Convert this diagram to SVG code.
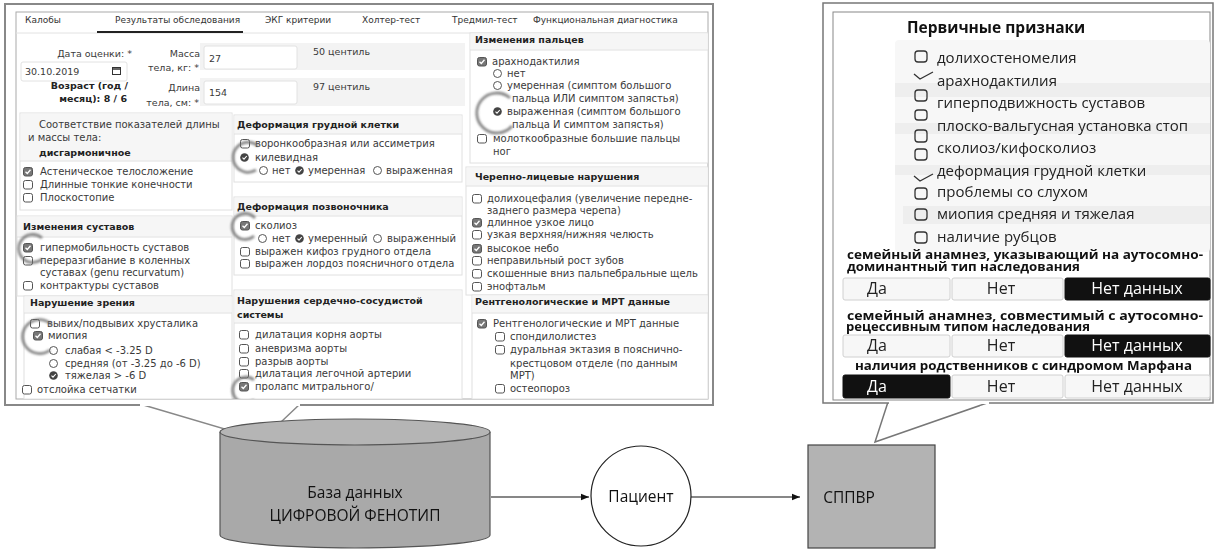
<svg xmlns="http://www.w3.org/2000/svg" xmlns:xlink="http://www.w3.org/1999/xlink" width="1215" height="552" viewBox="0 0 1215 552">
<style>
.t{font-family:"DejaVu Sans",sans-serif;font-size:10px;fill:#3a3a3a}
.s{font-size:9.5px}
.tab{font-family:"DejaVu Sans",sans-serif;font-size:9px;fill:#333}
.b{font-family:"DejaVu Sans",sans-serif;font-size:9.5px;font-weight:bold;fill:#222}
.sec{fill:#fff;stroke:#e0e0e0;stroke-width:1}
.hdr{fill:#f6f6f6}
.hl{fill:none;stroke:#6a6a6a;stroke-width:2.8;opacity:.8}
.o{font-family:"Open Sans","Noto Sans",sans-serif;font-size:15px;fill:#222}
.ob{font-family:"Open Sans","Noto Sans",sans-serif;font-size:12px;font-weight:bold;fill:#111}
.btn{fill:#f7f7f7;stroke:#d0d0d0;stroke-width:1}
.bk{fill:#111;stroke:#111}
.bt{font-family:"Open Sans","Noto Sans",sans-serif;font-size:16px;fill:#222;text-anchor:middle}
.bw{fill:#fff}
.pb{fill:none;stroke:#333;stroke-width:1.3}
.lbl{font-family:"Open Sans","Noto Sans",sans-serif;font-size:15.5px;fill:#111;text-anchor:middle}
.cn{stroke:#111;stroke-width:1.2;fill:none}
</style>
<defs>
<g id="cb"><rect x="0.5" y="0.5" width="9" height="8.5" rx="2" fill="#fff" stroke="#555" stroke-width="1"/></g>
<g id="cbc"><rect x="0.5" y="0.5" width="9" height="8.5" rx="2" fill="#777" stroke="#555" stroke-width="1"/><path d="M2.5 4.8 L4.3 6.5 L7.5 2.8" fill="none" stroke="#fff" stroke-width="1.3"/></g>
<g id="rd"><circle cx="4.5" cy="4.5" r="4" fill="#fff" stroke="#555" stroke-width="1"/></g>
<g id="rdc"><circle cx="4.5" cy="4.5" r="4.3" fill="#444"/><path d="M2.5 4.7 L4 6.2 L6.8 3" fill="none" stroke="#fff" stroke-width="1.1"/></g>
<filter id="blur" x="-30%" y="-30%" width="160%" height="160%"><feGaussianBlur stdDeviation="1.1"/></filter>
<clipPath id="lclip"><rect x="16" y="12" width="692" height="387"/></clipPath>
<marker id="ar" viewBox="0 0 10 10" refX="10" refY="5" markerWidth="7" markerHeight="7" orient="auto"><path d="M0 1 L10 5 L0 9 Z" fill="#111"/></marker>
</defs>

<g id="left-panel">
<path d="M140 404 L262 440 L300 404" fill="#fff" stroke="#888" stroke-width="1.5"/>
<rect x="5" y="4" width="708" height="401" fill="#fff" stroke="#888" stroke-width="2"/>
<line x1="140" y1="405" x2="300" y2="405" stroke="#fff" stroke-width="2"/>
<rect x="16" y="12" width="692" height="387" fill="#fff" stroke="#aaa" stroke-width="1"/>
<g clip-path="url(#lclip)">
<line x1="16" y1="33" x2="708" y2="33" stroke="#e2e2e2"/>
<line x1="97" y1="32" x2="243" y2="32" stroke="#222" stroke-width="2"/>
<text class="tab" x="25" y="23">Калобы</text>
<text class="tab" x="115" y="23">Результаты обследования</text>
<text class="tab" x="265" y="23">ЭКГ критерии</text>
<text class="tab" x="362" y="23">Холтер-тест</text>
<text class="tab" x="452" y="23">Тредмил-тест</text>
<text class="tab" x="533" y="23">Функциональная диагностика</text>

<rect x="200" y="43" width="265" height="27" fill="#f3f3f3"/>
<rect x="200" y="78" width="265" height="28" fill="#f3f3f3"/>
<rect x="204" y="46" width="93" height="23" rx="2" fill="#fff" stroke="#e2e2e2"/>
<rect x="204" y="81" width="93" height="23" rx="2" fill="#fff" stroke="#e2e2e2"/>
<rect x="21" y="62" width="106" height="19" rx="2" fill="#fff" stroke="#e2e2e2"/>
<rect x="112.5" y="67.5" width="8" height="7" fill="none" stroke="#333" stroke-width="1"/>
<line x1="112.5" y1="69" x2="120.5" y2="69" stroke="#333" stroke-width="1.5"/>
<text class="t s" x="132" y="57" text-anchor="end">Дата оценки: *</text>
<text class="t s" x="25" y="75">30.10.2019</text>
<text class="b" x="128" y="89" text-anchor="end">Возраст (год /</text>
<text class="b" x="127" y="102" text-anchor="end">месяц): 8 / 6</text>
<text class="t s" x="200" y="57" text-anchor="end">Масса</text>
<text class="t s" x="199" y="71" text-anchor="end">тела, кг: *</text>
<text class="t s" x="200" y="91" text-anchor="end">Длина</text>
<text class="t s" x="199" y="106" text-anchor="end">тела, см: *</text>
<text class="t s" x="209" y="62">27</text>
<text class="t s" x="209" y="96">154</text>
<text class="t s" x="313" y="55">50 центиль</text>
<text class="t s" x="313" y="90">97 центиль</text>

<rect class="sec" x="20" y="113" width="212" height="97"/>
<rect class="hdr" x="20.5" y="113.5" width="211" height="47"/>
<line x1="20" y1="161" x2="232" y2="161" stroke="#e0e0e0"/>
<text class="t" x="39" y="128">Соответствие показателей длины</text>
<text class="t" x="28" y="141">и массы тела:</text>
<text class="b" x="39" y="156">дисгармоничное</text>
<use href="#cbc" x="23" y="167"/><text class="t" x="40" y="175">Астеническое телосложение</text>
<use href="#cb" x="23" y="180"/><text class="t" x="40" y="188">Длинные тонкие конечности</text>
<use href="#cb" x="23" y="193"/><text class="t" x="40" y="201">Плоскостопие</text>

<rect class="sec" x="17" y="216" width="215" height="80"/>
<rect class="hdr" x="17.5" y="216.5" width="214" height="20"/>
<line x1="17" y1="237" x2="232" y2="237" stroke="#e0e0e0"/>
<text class="b" x="23" y="230">Изменения суставов</text>
<use href="#cbc" x="23" y="243"/><text class="t" x="40" y="251">гипермобильность суставов</text>
<use href="#cb" x="23" y="256"/><text class="t" x="40" y="264">переразгибание в коленных</text>
<text class="t" x="40" y="276">суставах (genu recurvatum)</text>
<use href="#cb" x="23" y="281"/><text class="t" x="40" y="289">контрактуры суставов</text>

<rect class="sec" x="24" y="296" width="208" height="103"/>
<rect class="hdr" x="24.5" y="296.5" width="207" height="16"/>
<line x1="24" y1="313" x2="232" y2="313" stroke="#e0e0e0"/>
<text class="b" x="30" y="306">Нарушение зрения</text>
<use href="#cb" x="30" y="319"/><text class="t" x="47" y="327">вывих/подвывих хрусталика</text>
<use href="#cbc" x="33" y="331"/><text class="t" x="48" y="339">миопия</text>
<use href="#rd" x="49" y="346"/><text class="t" x="65" y="354">слабая &lt; -3.25 D</text>
<use href="#rd" x="49" y="359"/><text class="t" x="65" y="367">средняя (от -3.25 до -6 D)</text>
<use href="#rdc" x="49" y="371"/><text class="t" x="65" y="379">тяжелая &gt; -6 D</text>
<use href="#cb" x="22" y="385"/><text class="t" x="37" y="393">отслойка сетчатки</text>

<rect class="sec" x="234" y="115" width="228" height="67"/>
<rect class="hdr" x="234.5" y="115.5" width="227" height="18"/>
<line x1="234" y1="134" x2="462" y2="134" stroke="#e0e0e0"/>
<text class="b" x="237" y="128">Деформация грудной клетки</text>
<use href="#cb" x="240" y="139"/><text class="t" x="255" y="147">воронкообразная или ассиметрия</text>
<use href="#rdc" x="240" y="153"/><text class="t" x="255" y="161">килевидная</text>
<use href="#rd" x="259" y="166"/><text class="t" x="272" y="174">нет</text>
<use href="#rdc" x="295" y="166"/><text class="t" x="308" y="174">умеренная</text>
<use href="#rd" x="373" y="166"/><text class="t" x="386" y="174">выраженная</text>

<rect class="sec" x="234" y="197" width="228" height="78"/>
<rect class="hdr" x="234.5" y="197.5" width="227" height="18"/>
<line x1="234" y1="216" x2="462" y2="216" stroke="#e0e0e0"/>
<text class="b" x="237" y="210">Деформация позвоночника</text>
<use href="#cbc" x="240" y="221"/><text class="t" x="255" y="229">сколиоз</text>
<use href="#rd" x="258" y="234"/><text class="t" x="272" y="242">нет</text>
<use href="#rdc" x="295" y="234"/><text class="t" x="308" y="242">умеренный</text>
<use href="#rd" x="373" y="234"/><text class="t" x="387" y="242">выраженный</text>
<use href="#cb" x="240" y="247"/><text class="t" x="255" y="255">выражен кифоз грудного отдела</text>
<use href="#cb" x="240" y="259"/><text class="t" x="255" y="267">выражен лордоз поясничного отдела</text>

<rect class="sec" x="234" y="290" width="228" height="109"/>
<rect class="hdr" x="234.5" y="290.5" width="227" height="32"/>
<line x1="234" y1="323" x2="462" y2="323" stroke="#e0e0e0"/>
<text class="b" x="237" y="304">Нарушения сердечно-сосудистой</text>
<text class="b" x="237" y="318">системы</text>
<use href="#cb" x="239" y="330"/><text class="t" x="255" y="338">дилатация корня аорты</text>
<use href="#cb" x="239" y="344"/><text class="t" x="255" y="352">аневризма аорты</text>
<use href="#cb" x="239" y="357"/><text class="t" x="255" y="365">разрыв аорты</text>
<use href="#cb" x="239" y="369"/><text class="t" x="255" y="377">дилатация легочной артерии</text>
<use href="#cbc" x="239" y="382"/><text class="t" x="255" y="390">пролапс митрального/</text>

<rect class="sec" x="470" y="33" width="238" height="130"/>
<rect class="hdr" x="470.5" y="33.5" width="237" height="16"/>
<line x1="470" y1="50" x2="708" y2="50" stroke="#e0e0e0"/>
<text class="b" x="475" y="43">Изменения пальцев</text>
<use href="#cbc" x="477" y="57"/><text class="t" x="492" y="65">арахнодактилия</text>
<use href="#rd" x="493" y="69"/><text class="t" x="507" y="77">нет</text>
<use href="#rd" x="493" y="81"/><text class="t" x="507" y="89">умеренная (симптом большого</text>
<text class="t" x="512" y="102">пальца ИЛИ симптом запястья)</text>
<use href="#rdc" x="493" y="107"/><text class="t" x="507" y="115">выраженная (симптом большого</text>
<text class="t" x="512" y="128">пальца И симптом запястья)</text>
<use href="#cb" x="477" y="134"/><text class="t" x="493" y="142">молоткообразные большие пальцы</text>
<text class="t" x="493" y="155">ног</text>

<rect class="sec" x="466" y="167" width="242" height="128"/>
<rect class="hdr" x="466.5" y="167.5" width="241" height="18"/>
<line x1="466" y1="186" x2="708" y2="186" stroke="#e0e0e0"/>
<text class="b" x="475" y="180">Черепно-лицевые нарушения</text>
<use href="#cb" x="472" y="194"/><text class="t" x="487" y="202">долихоцефалия (увеличение передне-</text>
<text class="t" x="487" y="214">заднего размера черепа)</text>
<use href="#cbc" x="472" y="218"/><text class="t" x="487" y="226">длинное узкое лицо</text>
<use href="#cb" x="472" y="230"/><text class="t" x="487" y="238">узкая верхняя/нижняя челюсть</text>
<use href="#cbc" x="472" y="244"/><text class="t" x="487" y="252">высокое небо</text>
<use href="#cb" x="472" y="256"/><text class="t" x="487" y="264">неправильный рост зубов</text>
<use href="#cb" x="472" y="269"/><text class="t" x="487" y="277">скошенные вниз пальпебральные щель</text>
<use href="#cb" x="472" y="282"/><text class="t" x="487" y="290">энофтальм</text>

<rect class="sec" x="472" y="295" width="236" height="104"/>
<rect class="hdr" x="472.5" y="295.5" width="235" height="17"/>
<line x1="472" y1="313" x2="708" y2="313" stroke="#e0e0e0"/>
<text class="b" x="475" y="305">Рентгенологические и МРТ данные</text>
<use href="#cbc" x="477" y="319"/><text class="t" x="493" y="327">Рентгенологические и МРТ данные</text>
<use href="#cb" x="495" y="332"/><text class="t" x="510" y="340">спондилолистез</text>
<use href="#cb" x="495" y="345"/><text class="t" x="510" y="353">дуральная эктазия в пояснично-</text>
<text class="t" x="510" y="367">крестцовом отделе (по данным</text>
<text class="t" x="510" y="379">МРТ)</text>
<use href="#cb" x="495" y="384"/><text class="t" x="510" y="392">остеопороз</text>

<g filter="url(#blur)">
<path class="hl" d="M258 146 A15 15 0 1 0 256 170"/>
<path class="hl" d="M255 218 A13 13 0 1 0 254 236"/>
<path class="hl" d="M42 238 A14 14 0 1 0 42 259"/>
<path class="hl" d="M52 325 A17 17 0 1 0 50 350"/>
<path class="hl" d="M510 98 A20 20 0 1 0 512 126"/>
<path class="hl" d="M254 380 A13 13 0 1 0 254 400"/>
</g>
</g>
</g>

<g id="right-panel">
<path d="M888 402 L875 442 L990 402" fill="#fff" stroke="#777" stroke-width="1.5"/>
<rect x="823" y="3" width="390" height="400" fill="#fff" stroke="#777" stroke-width="1.5"/>
<line x1="889" y1="403" x2="989" y2="403" stroke="#fff" stroke-width="2"/>
<rect x="833" y="12" width="377" height="388" fill="#fff" stroke="#888" stroke-width="1"/>
<rect x="895" y="40" width="315" height="212" rx="4" fill="#f7f7f7"/>
<rect x="895" y="83" width="315" height="14" fill="#eeeeee"/>
<rect x="895" y="123" width="315" height="11" fill="#eeeeee"/>
<rect x="895" y="165" width="315" height="10" fill="#eeeeee"/>
<rect x="903" y="206" width="307" height="18" fill="#eeeeee"/>
<text x="907" y="33" style="font-family:'Open Sans','Noto Sans',sans-serif;font-size:15.5px;font-weight:bold;fill:#111">Первичные признаки</text>
<rect class="pb" x="915" y="51" width="12" height="11" rx="3"/>
<path class="pb" d="M914 74 L920 79 L933 72"/>
<rect class="pb" x="915" y="90" width="12" height="11" rx="3"/>
<rect class="pb" x="915" y="110" width="12" height="10" rx="3"/>
<rect class="pb" x="915" y="130" width="12" height="12" rx="3"/>
<rect class="pb" x="915" y="149" width="12" height="11" rx="3"/>
<path class="pb" d="M914 176 L920 181 L933 174"/>
<rect class="pb" x="915" y="188" width="12" height="11" rx="3"/>
<rect class="pb" x="915" y="209" width="12" height="11" rx="3"/>
<rect class="pb" x="915" y="232" width="12" height="11" rx="3"/>
<text class="o" x="937" y="63">долихостеномелия</text>
<text class="o" x="937" y="86">арахнодактилия</text>
<text class="o" x="937" y="108">гиперподвижность суставов</text>
<text class="o" x="937" y="131">плоско-вальгусная установка стоп</text>
<text class="o" x="937" y="153">сколиоз/кифосколиоз</text>
<text class="o" x="937" y="176">деформация грудной клетки</text>
<text class="o" x="937" y="197">проблемы со слухом</text>
<text class="o" x="937" y="219">миопия средняя и тяжелая</text>
<text class="o" x="937" y="242">наличие рубцов</text>

<text class="ob"><tspan x="847" y="259" textLength="356" lengthAdjust="spacingAndGlyphs">семейный анамнез, указывающий на аутосомно-</tspan><tspan x="847" y="271" textLength="233" lengthAdjust="spacingAndGlyphs">доминантный тип наследования</tspan></text>
<rect class="btn" x="843" y="278" width="107" height="22" rx="2"/>
<rect class="btn" x="952" y="278" width="111" height="22" rx="2"/>
<rect class="bk" x="1065" y="278" width="145" height="22" rx="2"/>
<text class="bt" x="877" y="294">Да</text>
<text class="bt" x="1001" y="294">Нет</text>
<text class="bt bw" x="1137" y="294">Нет данных</text>

<text class="ob"><tspan x="847" y="320" textLength="356" lengthAdjust="spacingAndGlyphs">семейный анамнез, совместимый с аутосомно-</tspan><tspan x="846" y="331" textLength="244" lengthAdjust="spacingAndGlyphs">рецессивным типом наследования</tspan></text>
<rect class="btn" x="843" y="335" width="107" height="22" rx="2"/>
<rect class="btn" x="952" y="335" width="111" height="22" rx="2"/>
<rect class="bk" x="1065" y="335" width="145" height="22" rx="2"/>
<text class="bt" x="877" y="351">Да</text>
<text class="bt" x="1001" y="351">Нет</text>
<text class="bt bw" x="1137" y="351">Нет данных</text>

<text class="ob" x="855" y="370" textLength="337" lengthAdjust="spacingAndGlyphs">наличия родственников с синдромом Марфана</text>
<rect class="bk" x="843" y="375" width="107" height="23" rx="2"/>
<rect class="btn" x="952" y="375" width="111" height="23" rx="2"/>
<rect class="btn" x="1065" y="375" width="145" height="23" rx="2"/>
<text class="bt bw" x="877" y="392">Да</text>
<text class="bt" x="1001" y="392">Нет</text>
<text class="bt" x="1137" y="392">Нет данных</text>
</g>

<g id="connectors">
<line class="cn" x1="491" y1="497" x2="589" y2="497" marker-end="url(#ar)"/>
<line class="cn" x1="691" y1="497" x2="800" y2="497" marker-end="url(#ar)"/>
</g>

<g id="db">
<path d="M220 432 L220 535 A135 13 0 0 0 490 535 L490 432" fill="#a9a9a9" stroke="#555" stroke-width="1.2"/>
<ellipse cx="355" cy="432" rx="135" ry="13" fill="#b5b5b5" stroke="#555" stroke-width="1.2"/>
<text class="lbl" x="355" y="498">База данных</text>
<text class="lbl" x="355" y="521">ЦИФРОВОЙ ФЕНОТИП</text>
</g>

<g id="patient">
<circle cx="641" cy="496" r="50" fill="#fff" stroke="#222" stroke-width="1.2"/>
<text class="lbl" x="641" y="502">Пациент</text>
</g>

<g id="sppvr">
<rect x="808" y="445" width="127" height="103" fill="#b3b3b3" stroke="#444" stroke-width="1.2"/>
<text class="lbl" x="849" y="503">СППВР</text>
</g>
</svg>
